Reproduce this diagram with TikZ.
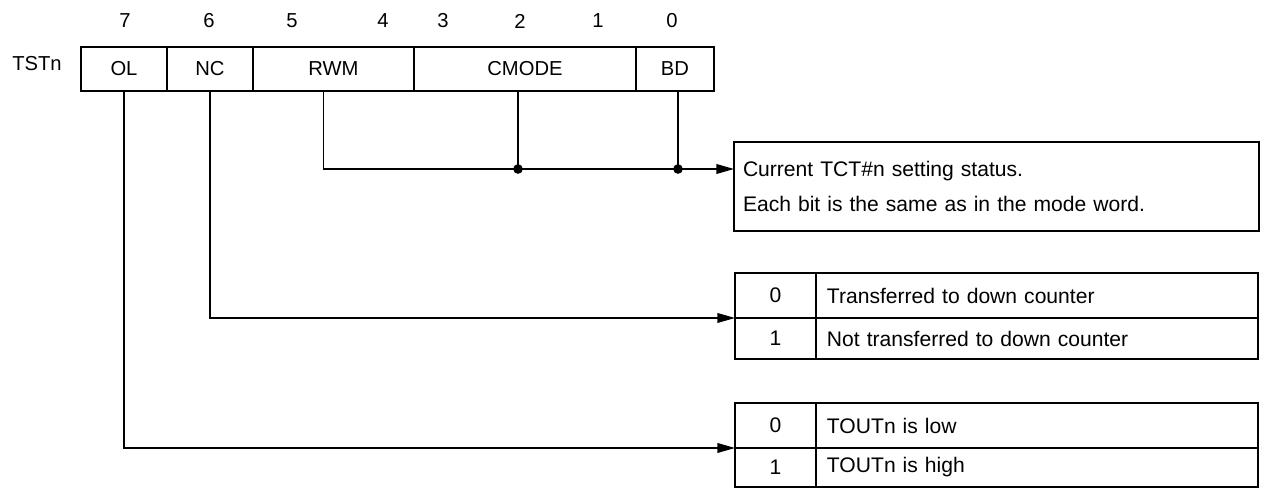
\documentclass[tikz,border=0pt]{standalone}
\usepackage{fontspec}
\setmainfont{Liberation Sans}
\usetikzlibrary{arrows.meta,calc}

\begin{document}
\begin{tikzpicture}[x=0.02cm, y=-0.02cm,
    field/.style={draw, line width=1.3pt, outer sep=0pt, minimum height=0.88cm, inner sep=0pt, font=\fontsize{11.5}{13}\selectfont},
    keycell/.style={draw, line width=1.3pt, outer sep=0pt, anchor=north west, inner sep=0pt, minimum width=1.62cm, font=\fontsize{12}{14}\selectfont},
    txtcell/.style={draw, line width=1.3pt, outer sep=0pt, anchor=north west, inner xsep=0.22cm, inner ysep=0pt, text width=8.4cm, align=left, font=\fontsize{12}{14}\selectfont},
    wire/.style={line width=0.8pt},
    arr/.style={wire, -{Triangle[length=10pt, width=5.5pt]}},
    dot/.style={circle, fill, inner sep=0pt, minimum size=5.5pt}]
    \useasboundingbox (0,0) rectangle (1263,489);

    % register fields
    \node[font=\fontsize{11.5}{13}\selectfont] (tst) at (37,64) {TSTn};
    \node[field, minimum width=1.72cm] (ol) at (124,69) {OL};
    \node[field, minimum width=1.72cm] (nc) at (210,69) {NC};
    \node[field, minimum width=3.22cm] (rwm) at (333.5,69) {RWM};
    \node[field, minimum width=4.44cm] (cmode) at (525,69) {CMODE};
    \node[field, minimum width=1.56cm] (bd) at (675,69) {BD};

    \foreach \bit/\xpos in {7/125, 6/209, 5/292, 4/383, 3/443, 2/520, 1/598, 0/672}
        \node[font=\fontsize{11.5}{13}\selectfont] (b\bit) at (\xpos,21) {\bit};

    % status box
    \node[draw, line width=1.3pt, outer sep=0pt, anchor=north west, inner xsep=0.18cm, inner ysep=0pt,
          text width=10.14cm, minimum height=1.78cm, align=left,
          font=\fontsize{12}{19.8}\selectfont] (cur) at (734,142)
        {Current TCT\#n setting status.\\Each bit is the same as in the mode word.};
    \coordinate (curin) at ($(cur.north west)+(0,27)$);

    % NC table
    \node[keycell, minimum height=0.9cm] (nc0k) at (735,273) {0};
    \node[txtcell, minimum height=0.9cm] (nc0t) at (nc0k.north east) {Transferred to down counter};
    \node[keycell, minimum height=0.82cm] (nc1k) at (nc0k.south west) {1};
    \node[txtcell, minimum height=0.82cm] (nc1t) at (nc1k.north east) {Not transferred to down counter};

    % OL table
    \node[keycell, minimum height=0.9cm] (ol0k) at (735,403) {0};
    \node[txtcell, minimum height=0.9cm] (ol0t) at (ol0k.north east) {TOUTn is low};
    \node[keycell, minimum height=0.78cm] (ol1k) at (ol0k.south west) {1};
    \node[txtcell, minimum height=0.78cm] (ol1t) at (ol1k.north east) {TOUTn is high};

    % connectors
    \path ($(cmode.south)+(-7,0)$) coordinate (cmout);
    \path ($(bd.south)+(3,0)$) coordinate (bdout);
    \coordinate (j2) at (cmout |- curin);
    \coordinate (j3) at (bdout |- curin);

    \draw[arr] ($(rwm.south)+(-10,0)$) |- (curin);
    \draw[wire] (cmout) -- (j2);
    \draw[wire] (bdout) -- (j3);
    \node[dot] at (j2) {};
    \node[dot] at (j3) {};

    \draw[arr] (nc.south) |- (nc0k.south west);
    \draw[arr] (ol.south) |- (ol0k.south west);
\end{tikzpicture}
\end{document}
